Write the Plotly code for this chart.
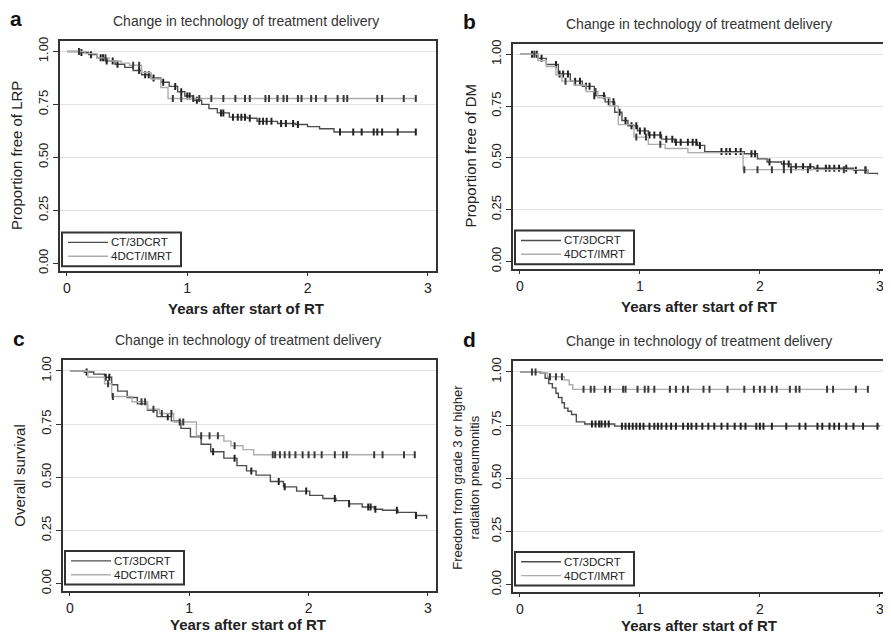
import numpy as np
import plotly.graph_objects as go

# The page body has an 8px default margin, so the figure is drawn 8px in from the
# window's top-left corner; page pixel positions are converted by this offset.
PAGE_W, PAGE_H = 891, 638
OFF = 8
W, H = PAGE_W - OFF, PAGE_H - OFF

FONT = "Liberation Sans"
DARK = "#4d4d4d"
LIGHT = "#adadad"
SERIES = ["CT/3DCRT", "4DCT/IMRT"]
PANEL_LETTERS = ["a", "b", "c", "d"]
PANEL_TITLE = "Change in technology of treatment delivery"
X_TITLE = "Years after start of RT"
Y_TITLES = ["Proportion free of LRP", "Proportion free of DM", "Overall survival",
            "Freedom from grade 3 or higher<br>radiation pneumonitis"]
X_TICKS = [0, 1, 2, 3]
Y_TICKS = [0.0, 0.25, 0.5, 0.75, 1.0]

# ---------------- Panel a: local-regional progression ----------------
a_ct_t = [0, 0.10, 0.18, 0.25, 0.32, 0.40, 0.48, 0.55, 0.62, 0.70, 0.78, 0.85, 0.92, 0.98,
          1.05, 1.12, 1.18, 1.25, 1.35, 1.50, 1.58, 1.75, 1.90, 2.00, 2.10, 2.22, 2.90]
a_ct_s = [1.00, 0.995, 0.985, 0.97, 0.955, 0.94, 0.925, 0.91, 0.89, 0.875, 0.855, 0.835, 0.81, 0.79,
          0.77, 0.75, 0.73, 0.71, 0.69, 0.685, 0.67, 0.66, 0.655, 0.645, 0.635, 0.62, 0.62]
a_ct_c = [0.12, 0.20, 0.28, 0.30, 0.33, 0.38, 0.42, 0.60, 0.65, 0.68, 0.72, 0.80, 0.90, 0.95, 1.00,
          1.02, 1.08, 1.28, 1.30, 1.38, 1.42, 1.45, 1.48, 1.52, 1.60, 1.63, 1.66, 1.70, 1.78, 1.82,
          1.88, 1.92, 2.27, 2.38, 2.45, 2.55, 2.58, 2.62, 2.75, 2.90]
a_im_t = [0, 0.15, 0.25, 0.35, 0.45, 0.52, 0.62, 0.70, 0.78, 0.84, 2.90]
a_im_s = [1.00, 0.99, 0.97, 0.955, 0.945, 0.935, 0.90, 0.87, 0.83, 0.778, 0.778]
a_im_c = [0.10, 0.32, 0.55, 0.60, 0.88, 0.95, 1.05, 1.10, 1.20, 1.30, 1.40, 1.48, 1.52, 1.65,
          1.68, 1.75, 1.80, 1.83, 1.92, 1.95, 2.03, 2.07, 2.15, 2.25, 2.30, 2.33, 2.58, 2.62, 2.80, 2.90]

# ---------------- Panel b: distant metastasis ----------------
b_ct_t = [0, 0.15, 0.22, 0.32, 0.42, 0.52, 0.62, 0.71, 0.79, 0.85, 0.90, 0.98, 1.07, 1.18, 1.29,
          1.48, 1.54, 1.87, 1.98, 2.06, 2.18, 2.26, 2.45, 2.78, 2.90, 2.98]
b_ct_s = [1.00, 0.98, 0.95, 0.905, 0.87, 0.845, 0.80, 0.77, 0.72, 0.68, 0.655, 0.63, 0.61, 0.59, 0.575,
          0.56, 0.53, 0.52, 0.495, 0.48, 0.47, 0.457, 0.45, 0.44, 0.425, 0.42]
b_ct_c = [0.10, 0.14, 0.18, 0.30, 0.33, 0.36, 0.40, 0.46, 0.50, 0.55, 0.58, 0.62, 0.70, 0.74, 0.78,
          0.83, 0.88, 0.93, 0.97, 1.00, 1.04, 1.08, 1.12, 1.17, 1.22, 1.27, 1.30, 1.34, 1.40, 1.44,
          1.47, 1.50, 1.68, 1.72, 1.75, 1.80, 1.84, 1.93, 1.96, 2.08, 2.20, 2.24, 2.30, 2.36, 2.42,
          2.48, 2.55, 2.58, 2.62, 2.66, 2.72, 2.80, 2.88]
b_im_t = [0, 0.15, 0.22, 0.30, 0.35, 0.45, 0.55, 0.65, 0.75, 0.82, 0.95, 1.07, 1.21, 1.40, 1.86, 2.90]
b_im_s = [1.00, 0.97, 0.94, 0.90, 0.87, 0.85, 0.82, 0.79, 0.75, 0.66, 0.60, 0.565, 0.545, 0.525, 0.443, 0.42]
b_im_c = [0.12, 0.38, 0.63, 0.97, 1.05, 1.17, 1.87, 1.98, 2.10, 2.20, 2.26, 2.40, 2.70, 2.88]

# ---------------- Panel c: overall survival ----------------
c_ct_t = [0, 0.12, 0.20, 0.29, 0.35, 0.40, 0.48, 0.565, 0.65, 0.73, 0.85, 0.93, 1.01, 1.10, 1.18,
          1.29, 1.40, 1.48, 1.56, 1.68, 1.79, 1.90, 2.01, 2.12, 2.23, 2.34, 2.45, 2.55, 2.62, 2.75,
          2.90, 2.99]
c_ct_s = [1.00, 0.995, 0.985, 0.97, 0.935, 0.905, 0.875, 0.845, 0.815, 0.785, 0.765, 0.73, 0.69,
          0.655, 0.62, 0.59, 0.555, 0.53, 0.51, 0.48, 0.455, 0.435, 0.415, 0.40, 0.39, 0.375, 0.36,
          0.35, 0.345, 0.335, 0.32, 0.305]
c_ct_c = [0.14, 0.30, 0.33, 0.82, 1.20, 1.38, 1.52, 1.75, 1.80, 1.98, 2.22, 2.34, 2.50, 2.52, 2.56,
          2.74, 2.90]
c_im_t = [0, 0.15, 0.29, 0.35, 0.52, 0.65, 0.75, 0.87, 0.95, 1.06, 1.29, 1.35, 1.45, 1.54, 2.90]
c_im_s = [1.00, 0.97, 0.94, 0.88, 0.855, 0.82, 0.80, 0.76, 0.76, 0.695, 0.67, 0.648, 0.63, 0.606, 0.606]
c_im_c = [0.32, 0.36, 0.60, 0.63, 0.70, 0.77, 0.85, 0.92, 0.95, 1.10, 1.17, 1.24, 1.38, 1.70, 1.72,
          1.76, 1.80, 1.84, 1.89, 1.95, 2.00, 2.05, 2.11, 2.22, 2.29, 2.32, 2.55, 2.62, 2.80, 2.89]

# ---------------- Panel d: grade >=3 radiation pneumonitis ----------------
d_ct_t = [0, 0.17, 0.21, 0.24, 0.27, 0.30, 0.32, 0.35, 0.37, 0.40, 0.43, 0.47, 0.54, 0.79, 3.00]
d_ct_s = [1.00, 0.995, 0.97, 0.945, 0.925, 0.90, 0.88, 0.855, 0.83, 0.815, 0.80, 0.765, 0.755, 0.745, 0.745]
d_ct_c = [0.60, 0.63, 0.66, 0.68, 0.71, 0.74, 0.85, 0.88, 0.91, 0.94, 0.97, 1.00, 1.03, 1.08, 1.12,
          1.15, 1.18, 1.22, 1.26, 1.30, 1.36, 1.40, 1.43, 1.47, 1.52, 1.57, 1.62, 1.68, 1.73, 1.79,
          1.84, 1.88, 1.97, 2.00, 2.03, 2.10, 2.22, 2.33, 2.38, 2.48, 2.52, 2.58, 2.62, 2.66, 2.72,
          2.78, 2.86, 2.98]
d_im_t = [0, 0.18, 0.23, 0.37, 0.41, 0.44, 2.90]
d_im_s = [1.00, 0.995, 0.977, 0.962, 0.94, 0.918, 0.918]
d_im_c = [0.10, 0.13, 0.25, 0.30, 0.35, 0.53, 0.59, 0.62, 0.71, 0.75, 0.86, 0.88, 0.98, 1.04, 1.07,
          1.12, 1.25, 1.30, 1.36, 1.40, 1.53, 1.58, 1.73, 1.87, 1.95, 2.00, 2.04, 2.10, 2.14, 2.25,
          2.30, 2.33, 2.56, 2.61, 2.80, 2.90]

PANELS = [
    (a_ct_t, a_ct_s, a_ct_c, a_im_t, a_im_s, a_im_c),
    (b_ct_t, b_ct_s, b_ct_c, b_im_t, b_im_s, b_im_c),
    (c_ct_t, c_ct_s, c_ct_c, c_im_t, c_im_s, c_im_c),
    (d_ct_t, d_ct_s, d_ct_c, d_im_t, d_im_s, d_im_c),
]

# page-pixel boxes of the plot frames (left, right, top, bottom)
BOXES = [(60, 436, 37, 270), (513, 888, 40, 268), (63, 436, 360, 594), (513, 888, 361, 595)]


def px(x):
    return (x - OFF) / W


def py(y):
    return 1 - (y - OFF) / H


def step_at(t, s, times):
    t = np.asarray(t)
    s = np.asarray(s)
    idx = np.clip(np.searchsorted(t, times, side="right") - 1, 0, len(s) - 1)
    return s[idx]


fig = go.Figure()
for i, (ct_t, ct_s, ct_c, im_t, im_s, im_c) in enumerate(PANELS):
    n = "" if i == 0 else str(i + 1)
    xa, ya = "x" + n, "y" + n
    for name, t, s, c, col, mcol in [(SERIES[0], ct_t, ct_s, ct_c, DARK, "#222222"),
                                     (SERIES[1], im_t, im_s, im_c, LIGHT, "#3a3a3a")]:
        fig.add_trace(go.Scatter(x=t, y=s, mode="lines", line=dict(color=col, width=1.4, shape="hv"),
                                 name=name, xaxis=xa, yaxis=ya, showlegend=False))
        fig.add_trace(go.Scatter(x=c, y=step_at(t, s, np.asarray(c)), mode="markers",
                                 marker=dict(symbol="line-ns", size=5, line=dict(color=mcol, width=2)),
                                 xaxis=xa, yaxis=ya, showlegend=False, hoverinfo="skip"))

layout = dict(width=W, height=H, margin=dict(l=0, r=0, t=0, b=0),
              paper_bgcolor="white", plot_bgcolor="white",
              font=dict(family=FONT, color="#222222", size=13), showlegend=False)

annotations = []
shapes = []
for i, (l, r, t, b) in enumerate(BOXES):
    n = "" if i == 0 else str(i + 1)
    layout["xaxis" + n] = dict(domain=[px(l), px(r)], anchor="y" + n, range=[-0.058, 3.068],
                               tickvals=X_TICKS, ticks="outside", ticklen=3, tickwidth=1, tickcolor="#333",
                               showgrid=False, zeroline=False, showline=True, linewidth=2,
                               linecolor="#333", mirror=True, tickfont=dict(size=14, color="#222"))
    layout["yaxis" + n] = dict(domain=[py(b), py(t)], anchor="x" + n, range=[-0.037, 1.051],
                               tickvals=Y_TICKS, tickformat=".2f", tickangle=-90, ticks="outside",
                               ticklen=5, tickwidth=1, tickcolor="#333", showgrid=True,
                               gridcolor="#e2e2e2", gridwidth=1.2, zeroline=True,
                               zerolinecolor="rgba(0,0,0,0)", showline=True, linewidth=2,
                               linecolor="#333", mirror=True, tickfont=dict(size=13, color="#222"))
    cx = (l + r) / 2
    annotations.append(dict(text="<b>" + PANEL_LETTERS[i] + "</b>", x=px(l - 52), y=py(t - 22),
                            xref="paper", yref="paper", xanchor="left", yanchor="middle",
                            showarrow=False, font=dict(size=21, family=FONT, color="#111")))
    annotations.append(dict(text=PANEL_TITLE, x=px(cx - 2), y=py(t - 20), xref="paper", yref="paper",
                            xanchor="center", yanchor="middle", showarrow=False,
                            font=dict(size=14, color="#333")))
    annotations.append(dict(text="<b>" + X_TITLE + "</b>", x=px(cx - 2),
                            y=py(b + (38 if i < 2 else 33)),
                            xref="paper", yref="paper", xanchor="center", yanchor="middle",
                            showarrow=False, font=dict(size=15, color="#222")))
    annotations.append(dict(text=Y_TITLES[i], x=px(l - (43 if i != 3 else 47)),
                            y=py((t + b) / 2), xref="paper", yref="paper", xanchor="center",
                            yanchor="middle", textangle=-90, showarrow=False,
                            font=dict(size=15 if i != 3 else 13, color="#222")))
    # legend box drawn in the lower-left corner of each panel
    lb_l, lb_r = l + 2, l + 121
    lb_b = b - (5 if i < 2 else 7)
    lb_t = lb_b - 34
    shapes.append(dict(type="rect", xref="paper", yref="paper", x0=px(lb_l), x1=px(lb_r),
                       y0=py(lb_b), y1=py(lb_t), line=dict(color="#333", width=2),
                       fillcolor="white", layer="above"))
    for k, (name, col) in enumerate([(SERIES[0], DARK), (SERIES[1], LIGHT)]):
        ry = lb_t + 10 + k * 14
        shapes.append(dict(type="line", xref="paper", yref="paper", x0=px(lb_l + 6), x1=px(lb_l + 46),
                           y0=py(ry), y1=py(ry), line=dict(color=col, width=1.4), layer="above"))
        annotations.append(dict(text=name, x=px(lb_l + 47), y=py(ry), xref="paper", yref="paper",
                                xanchor="left", yanchor="middle", showarrow=False,
                                font=dict(size=11.5, color="#222")))

layout["annotations"] = annotations
layout["shapes"] = shapes
fig.update_layout(**layout)
fig.write_html("out.html")
